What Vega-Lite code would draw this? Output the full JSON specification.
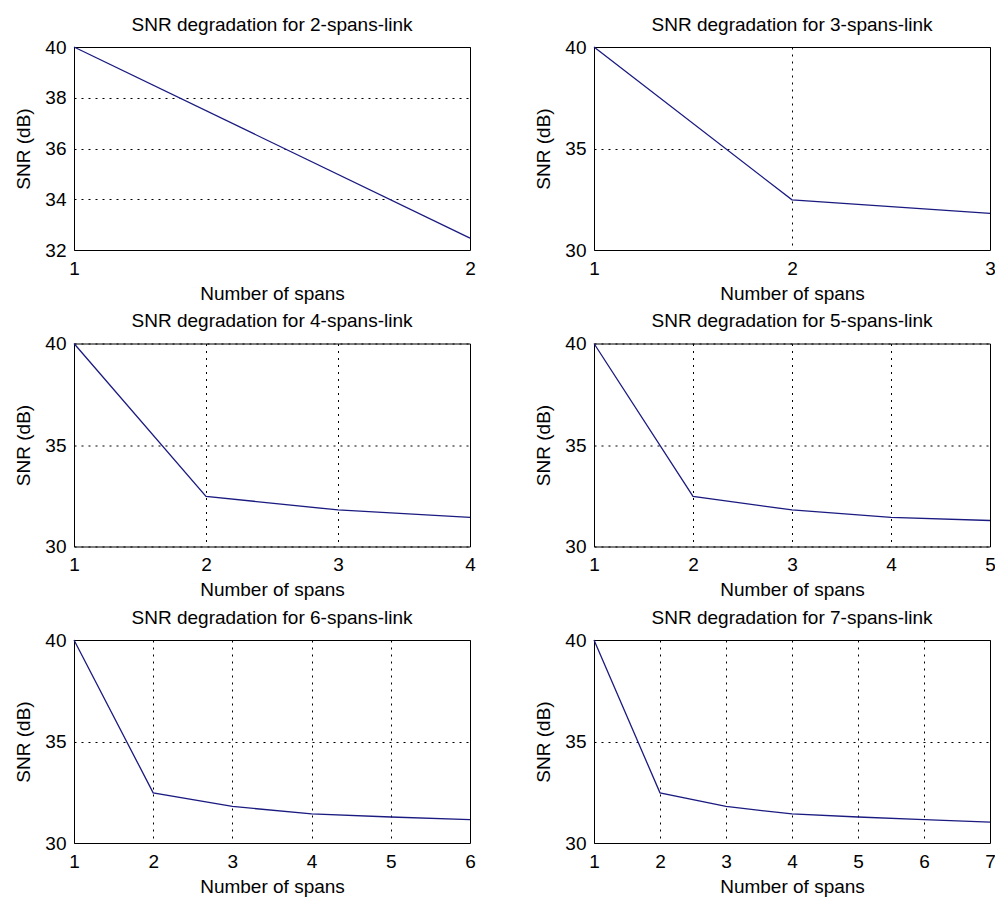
{
  "$schema": "https://vega.github.io/schema/vega-lite/v6.json",
  "background": "white",
  "padding": {"left": 14, "top": 15, "right": 0, "bottom": 0},
  "autosize": {"type": "pad"},
  "datasets": {
    "p2": [{"spans": 1, "snr": 40}, {"spans": 2, "snr": 32.47}],
    "p3": [{"spans": 1, "snr": 40}, {"spans": 2, "snr": 32.47}, {"spans": 3, "snr": 31.8}],
    "p4": [{"spans": 1, "snr": 40}, {"spans": 2, "snr": 32.47}, {"spans": 3, "snr": 31.8}, {"spans": 4, "snr": 31.43}],
    "p5": [{"spans": 1, "snr": 40}, {"spans": 2, "snr": 32.47}, {"spans": 3, "snr": 31.8}, {"spans": 4, "snr": 31.43}, {"spans": 5, "snr": 31.28}],
    "p6": [{"spans": 1, "snr": 40}, {"spans": 2, "snr": 32.47}, {"spans": 3, "snr": 31.8}, {"spans": 4, "snr": 31.43}, {"spans": 5, "snr": 31.28}, {"spans": 6, "snr": 31.15}],
    "p7": [{"spans": 1, "snr": 40}, {"spans": 2, "snr": 32.47}, {"spans": 3, "snr": 31.8}, {"spans": 4, "snr": 31.43}, {"spans": 5, "snr": 31.28}, {"spans": 6, "snr": 31.15}, {"spans": 7, "snr": 31.03}]
  },
  "columns": 2,
  "spacing": {"row": 93.5, "column": 124},
  "bounds": "flush",
  "concat": [
    {
      "width": 396, "height": 203,
      "title": "SNR degradation for 2-spans-link",
      "data": {"name": "p2"},
      "mark": {"type": "line", "color": "#1a1a80", "strokeWidth": 1.3},
      "encoding": {
        "x": {"field": "spans", "type": "quantitative", "scale": {"domain": [1, 2], "nice": false, "zero": false}, "axis": {"values": [1, 2], "title": "Number of spans"}},
        "y": {"field": "snr", "type": "quantitative", "scale": {"domain": [32, 40], "nice": false, "zero": false}, "axis": {"values": [32, 34, 36, 38, 40], "title": "SNR (dB)"}}
      }
    },
    {
      "width": 396, "height": 203,
      "title": "SNR degradation for 3-spans-link",
      "data": {"name": "p3"},
      "mark": {"type": "line", "color": "#1a1a80", "strokeWidth": 1.3},
      "encoding": {
        "x": {"field": "spans", "type": "quantitative", "scale": {"domain": [1, 3], "nice": false, "zero": false}, "axis": {"values": [1, 2, 3], "title": "Number of spans"}},
        "y": {"field": "snr", "type": "quantitative", "scale": {"domain": [30, 40], "nice": false, "zero": false}, "axis": {"values": [30, 35, 40], "title": "SNR (dB)"}}
      }
    },
    {
      "width": 396, "height": 203,
      "title": "SNR degradation for 4-spans-link",
      "data": {"name": "p4"},
      "mark": {"type": "line", "color": "#1a1a80", "strokeWidth": 1.3},
      "encoding": {
        "x": {"field": "spans", "type": "quantitative", "scale": {"domain": [1, 4], "nice": false, "zero": false}, "axis": {"values": [1, 2, 3, 4], "title": "Number of spans"}},
        "y": {"field": "snr", "type": "quantitative", "scale": {"domain": [30, 40], "nice": false, "zero": false}, "axis": {"values": [30, 35, 40], "title": "SNR (dB)"}}
      }
    },
    {
      "width": 396, "height": 203,
      "title": "SNR degradation for 5-spans-link",
      "data": {"name": "p5"},
      "mark": {"type": "line", "color": "#1a1a80", "strokeWidth": 1.3},
      "encoding": {
        "x": {"field": "spans", "type": "quantitative", "scale": {"domain": [1, 5], "nice": false, "zero": false}, "axis": {"values": [1, 2, 3, 4, 5], "title": "Number of spans"}},
        "y": {"field": "snr", "type": "quantitative", "scale": {"domain": [30, 40], "nice": false, "zero": false}, "axis": {"values": [30, 35, 40], "title": "SNR (dB)"}}
      }
    },
    {
      "width": 396, "height": 203,
      "title": "SNR degradation for 6-spans-link",
      "data": {"name": "p6"},
      "mark": {"type": "line", "color": "#1a1a80", "strokeWidth": 1.3},
      "encoding": {
        "x": {"field": "spans", "type": "quantitative", "scale": {"domain": [1, 6], "nice": false, "zero": false}, "axis": {"values": [1, 2, 3, 4, 5, 6], "title": "Number of spans"}},
        "y": {"field": "snr", "type": "quantitative", "scale": {"domain": [30, 40], "nice": false, "zero": false}, "axis": {"values": [30, 35, 40], "title": "SNR (dB)"}}
      }
    },
    {
      "width": 396, "height": 203,
      "title": "SNR degradation for 7-spans-link",
      "data": {"name": "p7"},
      "mark": {"type": "line", "color": "#1a1a80", "strokeWidth": 1.3},
      "encoding": {
        "x": {"field": "spans", "type": "quantitative", "scale": {"domain": [1, 7], "nice": false, "zero": false}, "axis": {"values": [1, 2, 3, 4, 5, 6, 7], "title": "Number of spans"}},
        "y": {"field": "snr", "type": "quantitative", "scale": {"domain": [30, 40], "nice": false, "zero": false}, "axis": {"values": [30, 35, 40], "title": "SNR (dB)"}}
      }
    }
  ],
  "config": {
    "font": "Liberation Sans",
    "view": {"stroke": "#000000", "strokeWidth": 1},
    "axis": {
      "domain": false,
      "ticks": false,
      "grid": true,
      "gridColor": "#000000",
      "gridOpacity": 1,
      "gridDash": [2, 5],
      "gridWidth": 1,
      "labelFontSize": 19,
      "labelColor": "#000000",
      "labelFont": "Liberation Sans",
      "titleFont": "Liberation Sans",
      "titleFontSize": 19,
      "titleFontWeight": "normal",
      "titleColor": "#000000",
      "format": "d"
    },
    "axisX": {"labelPadding": 9, "titlePadding": 6, "labelFlush": false},
    "axisY": {"labelPadding": 8, "titlePadding": 11},
    "title": {"fontSize": 19, "fontWeight": "normal", "font": "Liberation Sans", "offset": 3.5, "color": "#000000"}
  }
}
